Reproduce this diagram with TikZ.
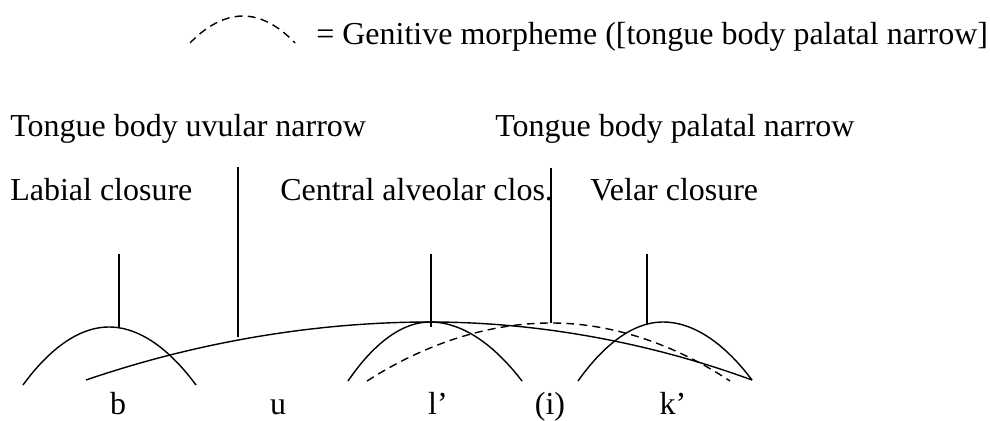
\documentclass[tikz,border=0pt]{standalone}
\usepackage{fontspec}
\setmainfont{Liberation Serif}
\tikzset{
  lbl/.style={inner sep=0pt, font=\fontsize{18.2}{22}\selectfont},
  gest/.style={line width=0.8pt},
  genitive/.style={gest, dash pattern=on 4.5pt off 3pt},
}
\begin{document}
\begin{tikzpicture}[x=0.02cm,y=-0.02cm]
\useasboundingbox (0,0) rectangle (990,421);
% key
\draw[genitive] (190,43) parabola bend (243,16) (295,43);
\node[lbl,anchor=base west] (key) at (316,45) {= Genitive morpheme ([tongue body palatal narrow]};
% gesture labels
\node[lbl,anchor=base west] (uvular) at (10,137) {Tongue body uvular narrow};
\node[lbl,anchor=base west] (palatal) at (495,137) {Tongue body palatal narrow};
\node[lbl,anchor=base west] (labial) at (10,201) {Labial closure};
\node[lbl,anchor=base west] (alveolar) at (280,201) {Central alveolar clos.};
\node[lbl,anchor=base west] (velar) at (590,201) {Velar closure};
% line ends
\coordinate (uvtop) at (238,167);
\coordinate (uvpeak) at (238,337);
\coordinate (paltop) at (551,168);
\coordinate (palpeak) at (551,323);
\coordinate (labtop) at (119,254);
\coordinate (labpeak) at (119,327);
\coordinate (alvtop) at (431,254);
\coordinate (alvpeak) at (431,327);
\coordinate (veltop) at (647,254);
\coordinate (velpeak) at (647,325);
% gestures
\draw[gest] (23,385) parabola bend (109,327) (196,385);
\draw[gest] (348,381) parabola bend (430,322) (522,381);
\draw[gest] (578,381) parabola bend (663,322) (752,380);
\draw[gest] (86,380) parabola bend (430,322) (752,380);
\draw[genitive] (367,381) parabola bend (551,323) (730,381);
% stems
\draw[gest] (uvtop) -- (uvpeak);
\draw[gest] (paltop) -- (palpeak);
\draw[gest] (labtop) -- (labpeak);
\draw[gest] (alvtop) -- (alvpeak);
\draw[gest] (veltop) -- (velpeak);
% segments
\node[lbl,anchor=base] (segb) at (118,415) {b};
\node[lbl,anchor=base] (segu) at (278,415) {u};
\node[lbl,anchor=base] (segl) at (438,415) {l’};
\node[lbl,anchor=base] (segi) at (550,415) {(i)};
\node[lbl,anchor=base] (segk) at (673,415) {k’};
\end{tikzpicture}
\end{document}
